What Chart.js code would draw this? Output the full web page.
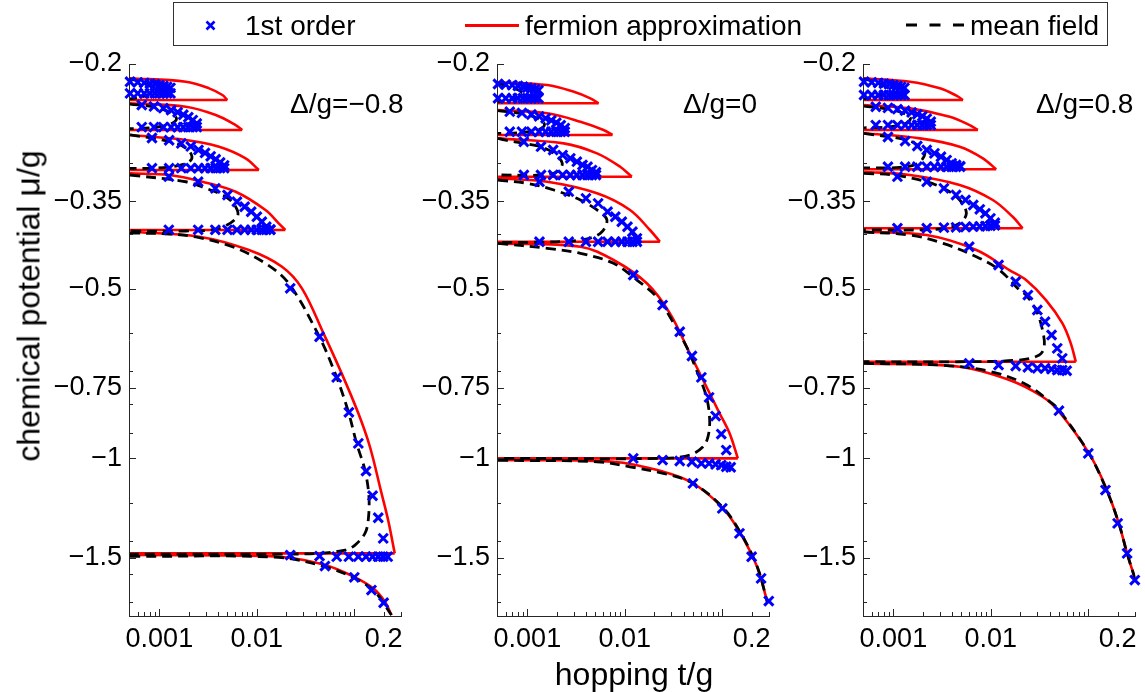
<!DOCTYPE html>
<html lang="en">
<head>
<meta charset="UTF-8" />
<title>Phase boundaries - chemical potential vs hopping</title>
<script src="https://cdn.jsdelivr.net/npm/chart.js"></script>
<style>
  body { margin: 0; background: #fff; width: 1145px; height: 692px; position: relative; overflow: hidden;
         font-family: "Liberation Sans", Arial, Helvetica, sans-serif; color: #000; }
  canvas.panel { position: absolute; top: 0; }
  .lbl { position: absolute; white-space: nowrap; }
  .leg { top: 12px; font-size: 28px; line-height: 28px; }
  .delta { top: 90px; font-size: 28px; line-height: 28px; }
</style>
</head>
<body>
  <canvas id="c1" class="panel" width="372" height="692" style="left:39px"></canvas>
  <canvas id="c2" class="panel" width="372" height="692" style="left:407px"></canvas>
  <canvas id="c3" class="panel" width="372" height="692" style="left:773px"></canvas>

  <div class="lbl delta" style="left:290px">&Delta;/g=&minus;0.8</div>
  <div class="lbl delta" style="left:683px">&Delta;/g=0</div>
  <div class="lbl delta" style="left:1036px">&Delta;/g=0.8</div>

  <div class="lbl" style="left:28px;top:306px;font-size:32px;line-height:32px;transform:translate(-50%,-50%) rotate(-90deg)">chemical potential <span style="font-size:34px">&mu;</span>/g</div>
  <div class="lbl" style="left:634px;top:658px;font-size:32px;line-height:32px;transform:translateX(-50%)">hopping t/g</div>

  <div style="position:absolute;left:173px;top:2px;width:935px;height:44px;border:1px solid #333;box-sizing:border-box"></div>
  <svg style="position:absolute;left:205px;top:20px" width="11" height="11"><path d="M1.5 1.5L9.5 9.5M9.5 1.5L1.5 9.5" stroke="#0000ff" stroke-width="2.6"/></svg>
  <div class="lbl leg" style="left:245px">1st order</div>
  <div style="position:absolute;left:465px;top:23.5px;width:54px;height:3px;background:#ff0000"></div>
  <div class="lbl leg" style="left:525px">fermion approximation</div>
  <svg style="position:absolute;left:906px;top:23px" width="58" height="4"><line x1="0" y1="2" x2="58" y2="2" stroke="#000" stroke-width="3" stroke-dasharray="11 12.5"/></svg>
  <div class="lbl leg" style="left:970px">mean field</div>

<script>
// axis ticks (y values are -mu/g, labelled with a minus sign)
const xTickValues = [0.001, 0.01, 0.2];
const xMajorMarks = [0.001, 0.01, 0.1];
const xMinorMarks = [0.0006, 0.0007, 0.0008, 0.0009, 0.002, 0.003, 0.004, 0.005, 0.006, 0.007, 0.008, 0.009,
                     0.02, 0.03, 0.04, 0.05, 0.06, 0.07, 0.08, 0.09, 0.2, 0.3];
const yTickValues = [0.2, 0.35, 0.5, 0.75, 1, 1.5];
const yMinorMarks = [0.3, 0.4, 0.6, 0.7, 0.8, 0.9, 1.2, 1.4, 1.6, 1.8];

// ---- Delta/g = -0.8 ----  (null separates curve pieces)
const p1FermionT = [
  0.0005, 0.00187, 0.00324, 0.00443, 0.00498, null, 0.00498, 0.0005, null,
  0.0005, 0.00187, 0.00379, 0.00606, 0.00708, null, 0.00708, 0.0005, null,
  0.0005, 0.00187, 0.0041, 0.00767, 0.0105, null, 0.0105, 0.0005, null,
  0.0005, 0.00127, 0.00277, 0.00606, 0.01227, 0.01677, 0.0196, null, 0.0196, 0.0005, null,
  0.0005, 0.00256, 0.00829, 0.01812, 0.029, 0.0483, 0.0742, 0.110, 0.1446, 0.19, 0.2223, 0.26, null, 0.26, 0.0005, null,
  0.0005, 0.005, 0.0181, 0.0502, 0.1016, 0.1563, 0.2062, 0.2407];
const p1FermionMu = [
  -0.212, -0.215, -0.2209, -0.227, -0.2317, null, -0.2317, -0.2317, null,
  -0.2348, -0.2381, -0.2463, -0.2566, -0.2618, null, -0.2618, -0.2618, null,
  -0.2672, -0.2727, -0.2803, -0.2939, -0.3083, null, -0.3083, -0.3083, null,
  -0.3125, -0.3146, -0.3234, -0.3368, -0.3629, -0.3832, -0.3938, null, -0.3938, -0.3938, null,
  -0.3966, -0.4047, -0.4273, -0.4575, -0.4996, -0.6004, -0.7069, -0.8322, -0.9538, -1.152, -1.2864, -1.4737, null, -1.4737, -1.4737, null,
  -1.484, -1.487, -1.496, -1.546, -1.625, -1.70, -1.796, -1.896];
const p1MeanT = [
  0.0005, 0.0007, 0.0009, 0.0007, 0.0005, null,
  0.0005, 0.0009, 0.0013, 0.0015, 0.0013, 0.0009, 0.0005, null,
  0.0005, 0.000854, 0.00148, 0.00194, 0.00216, 0.00202, 0.00148, 0.000854, 0.0005, null,
  0.0005, 0.00187, 0.003, 0.00479, 0.00606, 0.0063, 0.0041, 0.00187, 0.0005, null,
  0.0005, 0.00127, 0.00237, 0.00561, 0.01227, 0.0212, 0.0429, 0.0636, 0.0869, 0.1056, 0.1286, 0.1413, 0.139, 0.1286, 0.1017, 0.0804, 0.0429, 0.0181, 0.0005, null,
  0.0005, 0.0167, 0.0502, 0.1016, 0.1627, 0.2407];
const p1MeanMu = [
  -0.2125, -0.216, -0.222, -0.228, -0.2305, null,
  -0.2355, -0.2385, -0.244, -0.250, -0.2555, -0.259, -0.2605, null,
  -0.2672, -0.2709, -0.2765, -0.2833, -0.292, -0.298, -0.3033, -0.3061, -0.3061, null,
  -0.3146, -0.3234, -0.3322, -0.3438, -0.3581, -0.3731, -0.3911, -0.3954, -0.3954, null,
  -0.3987, -0.4003, -0.4052, -0.4216, -0.4512, -0.4895, -0.6045, -0.7069, -0.8268, -0.9406, -1.049, -1.1697, -1.2864, -1.3581, -1.4246, -1.454, -1.4737, -1.478, -1.478, null,
  -1.492, -1.498, -1.5565, -1.632, -1.7238, -1.8957];
const p1OrderT = [
  0.0005, 0.0006, 0.0007, 0.0008, 0.0009, 0.001, 0.0011, 0.0012, 0.0013,
  0.0005, 0.0006, 0.0007, 0.0008, 0.0009, 0.001, 0.0011, 0.0012, 0.0013,
  0.00066, 0.00088, 0.0011, 0.00132, 0.00154, 0.00176, 0.00198, 0.0022, 0.00242,
  0.00066, 0.00088, 0.0011, 0.00132, 0.00154, 0.00176, 0.00198, 0.0022, 0.00242,
  0.00084, 0.00126, 0.00168, 0.0021, 0.00252, 0.00294, 0.00336, 0.00378, 0.0042, 0.00462,
  0.00084, 0.00126, 0.00168, 0.0021, 0.00252, 0.00294, 0.00336, 0.00378, 0.0042, 0.00462,
  0.00125, 0.0025, 0.00375, 0.005, 0.00625, 0.0075, 0.00875, 0.01, 0.01125, 0.0125, 0.01375,
  0.00125, 0.0025, 0.00375, 0.005, 0.00625, 0.0075, 0.00875, 0.01, 0.01125, 0.0125, 0.01375,
  0.022, 0.044, 0.066, 0.088, 0.11, 0.132, 0.154, 0.176, 0.198,
  0.022, 0.044, 0.066, 0.088, 0.11, 0.132, 0.154, 0.176, 0.198, 0.22,
  0.05, 0.1, 0.15, 0.2];
const p1OrderMu = [
  -0.2150, -0.2155, -0.2160, -0.2166, -0.2172, -0.2180, -0.2188, -0.2196, -0.2205,
  -0.2255, -0.2255, -0.2255, -0.2255, -0.2255, -0.2255, -0.2255, -0.2255, -0.2255,
  -0.2365, -0.2378, -0.2395, -0.2415, -0.2435, -0.2460, -0.2485, -0.2515, -0.2550,
  -0.2588, -0.2588, -0.2588, -0.2588, -0.2588, -0.2588, -0.2588, -0.2588, -0.2588,
  -0.2705, -0.2730, -0.2765, -0.2800, -0.2840, -0.2875, -0.2915, -0.2950, -0.2990, -0.3025,
  -0.3060, -0.3060, -0.3060, -0.3060, -0.3060, -0.3060, -0.3060, -0.3060, -0.3060, -0.3060,
  -0.3168, -0.3234, -0.3322, -0.3414, -0.3509, -0.3581, -0.3655, -0.3731, -0.3807, -0.3886, -0.3930,
  -0.3935, -0.3935, -0.3935, -0.3935, -0.3935, -0.3935, -0.3935, -0.3935, -0.3935, -0.3935, -0.3935,
  -0.4996, -0.6088, -0.7185, -0.8288, -0.9406, -1.0532, -1.165, -1.2743, -1.3861,
  -1.484, -1.490, -1.494, -1.494, -1.494, -1.494, -1.494, -1.494, -1.494, -1.494,
  -1.552, -1.625, -1.712, -1.803];

// ---- Delta/g = 0 ----
const p2FermionT = [
  0.0005, 0.0016, 0.003, 0.00443, 0.00538, null, 0.00538, 0.0005, null,
  0.0005, 0.0016, 0.0035, 0.00605, 0.00747, null, 0.00747, 0.0005, null,
  0.0005, 0.00236, 0.00518, 0.00895, 0.0118, null, 0.0118, 0.0005, null,
  0.0005, 0.0016, 0.00518, 0.0113, 0.0181, 0.0229, null, 0.0229, 0.0005, null,
  0.0005, 0.0035, 0.00765, 0.0168, 0.029, 0.0464, 0.0687, 0.0938, 0.1187, 0.1443, null, 0.1443, 0.0005, null,
  0.0005, 0.00765, 0.0248, 0.0501, 0.1014, 0.1502, 0.2052, 0.2402, 0.29];
const p2FermionMu = [
  -0.2155, -0.2179, -0.224, -0.2301, -0.2348, null, -0.2348, -0.2348, null,
  -0.2413, -0.2446, -0.2531, -0.2618, -0.2672, null, -0.2672, -0.2672, null,
  -0.2709, -0.2765, -0.288, -0.3042, -0.3168, null, -0.3168, -0.3168, null,
  -0.3189, -0.3234, -0.339, -0.3629, -0.3938, -0.4131, null, -0.4131, -0.4131, null,
  -0.4158, -0.4216, -0.4451, -0.4895, -0.5533, -0.6514, -0.7466, -0.8322, -0.903, -1.0, null, -1.0, -1.0, null,
  -1.007, -1.014, -1.056, -1.107, -1.225, -1.349, -1.494, -1.599, -1.80];
const p2MeanT = [
  0.0005, 0.0007, 0.0009, 0.0007, 0.0005, null,
  0.0005, 0.0009, 0.0013, 0.0015, 0.0013, 0.0009, 0.0005, null,
  0.0005, 0.00058, 0.00092, 0.00137, 0.00187, 0.00228, 0.00202, 0.00137, 0.0005, null,
  0.0005, 0.001, 0.00187, 0.0035, 0.00518, 0.00655, 0.0056, 0.0035, 0.00117, 0.0005, null,
  0.0005, 0.0016, 0.0035, 0.00765, 0.0133, 0.0212, 0.029, 0.0429, 0.0543, 0.0687, 0.0742, 0.0713, 0.0634, 0.0464, 0.0248, 0.0005, null,
  0.0005, 0.00518, 0.0113, 0.0248, 0.0501, 0.1014, 0.1502, 0.2052, 0.2402, 0.29];
const p2MeanMu = [
  -0.2165, -0.22, -0.226, -0.231, -0.2335, null,
  -0.242, -0.245, -0.25, -0.256, -0.2615, -0.2645, -0.2655, null,
  -0.2709, -0.2727, -0.2765, -0.2803, -0.288, -0.30, -0.3104, -0.3146, -0.3146, null,
  -0.3211, -0.3255, -0.3345, -0.3484, -0.3629, -0.3781, -0.3992, -0.4102, -0.414, -0.414, null,
  -0.4158, -0.4244, -0.4331, -0.4512, -0.483, -0.5171, -0.561, -0.6341, -0.6974, -0.7777, -0.8553, -0.9156, -0.9538, -0.9866, -1.0, -1.0, null,
  -1.008, -1.014, -1.035, -1.063, -1.107, -1.222, -1.345, -1.49, -1.595, -1.80];
const p2OrderT = [
  0.0005, 0.0006, 0.0007, 0.0008, 0.0009, 0.001, 0.0011, 0.0012, 0.0013,
  0.0005, 0.0006, 0.0007, 0.0008, 0.0009, 0.001, 0.0011, 0.0012, 0.0013,
  0.00066, 0.00088, 0.0011, 0.00132, 0.00154, 0.00176, 0.00198, 0.0022, 0.00242,
  0.00066, 0.00088, 0.0011, 0.00132, 0.00154, 0.00176, 0.00198, 0.0022, 0.00242,
  0.00092, 0.00138, 0.00184, 0.0023, 0.00276, 0.00322, 0.00368, 0.00414, 0.0046, 0.00506,
  0.00092, 0.00138, 0.00184, 0.0023, 0.00276, 0.00322, 0.00368, 0.00414, 0.0046, 0.00506,
  0.00133, 0.00266, 0.00399, 0.00532, 0.00665, 0.00798, 0.00931, 0.01064, 0.01197, 0.0133,
  0.00133, 0.00266, 0.00399, 0.00532, 0.00665, 0.00798, 0.00931, 0.01064, 0.01197, 0.0133,
  0.0122, 0.0244, 0.0366, 0.0488, 0.061, 0.0732, 0.0854, 0.0976, 0.1098,
  0.0122, 0.0244, 0.0366, 0.0488, 0.061, 0.0732, 0.0854, 0.0976, 0.1098, 0.122,
  0.05, 0.1, 0.15, 0.2, 0.25, 0.3];
const p2OrderMu = [
  -0.2170, -0.2175, -0.2180, -0.2187, -0.2194, -0.2202, -0.2210, -0.2218, -0.2226,
  -0.2300, -0.2300, -0.2300, -0.2300, -0.2300, -0.2300, -0.2300, -0.2300, -0.2300,
  -0.2430, -0.2442, -0.2458, -0.2476, -0.2496, -0.2518, -0.2542, -0.2568, -0.2598,
  -0.2637, -0.2637, -0.2637, -0.2637, -0.2637, -0.2637, -0.2637, -0.2637, -0.2637,
  -0.2747, -0.2803, -0.2841, -0.2900, -0.2939, -0.2980, -0.3020, -0.3042, -0.3083, -0.3110,
  -0.3146, -0.3146, -0.3146, -0.3146, -0.3146, -0.3146, -0.3146, -0.3146, -0.3146, -0.3146,
  -0.3234, -0.3368, -0.3460, -0.3532, -0.3655, -0.3731, -0.3807, -0.3886, -0.3966, -0.4074,
  -0.4131, -0.4131, -0.4131, -0.4131, -0.4131, -0.4131, -0.4131, -0.4131, -0.4131, -0.4131,
  -0.4732, -0.5349, -0.5965, -0.6586, -0.7185, -0.7796, -0.8414, -0.9056, -0.9667,
  -1.0, -1.007, -1.011, -1.014, -1.021, -1.021, -1.025, -1.028, -1.035, -1.037,
  -1.1074, -1.2264, -1.3581, -1.4943, -1.632, -1.7904];

// ---- Delta/g = 0.8 ----
const p3FermionT = [
  0.0005, 0.00148, 0.003, 0.00444, 0.00518, null, 0.00518, 0.0005, null,
  0.0005, 0.00148, 0.00379, 0.00606, 0.00737, null, 0.00737, 0.0005, null,
  0.0005, 0.00187, 0.00479, 0.00829, 0.01135, null, 0.01135, 0.0005, null,
  0.0005, 0.00148, 0.00479, 0.01048, 0.01677, 0.0212, null, 0.0212, 0.0005, null,
  0.0005, 0.00219, 0.0071, 0.01551, 0.023, 0.0368, 0.0543, 0.0661, 0.0744, null, 0.0744, 0.0005, null,
  0.0005, 0.00479, 0.01551, 0.0339, 0.0502, 0.1017, 0.1505, 0.2057, 0.25, 0.3047];
const p3FermionMu = [
  -0.212, -0.215, -0.2209, -0.2276, -0.2317, null, -0.2317, -0.2317, null,
  -0.2365, -0.2397, -0.248, -0.2566, -0.2618, null, -0.2618, -0.2618, null,
  -0.2654, -0.2709, -0.2803, -0.2939, -0.3074, null, -0.3074, -0.3074, null,
  -0.3104, -0.3146, -0.3277, -0.3484, -0.3731, -0.391, null, -0.391, -0.391, null,
  -0.3966, -0.402, -0.4273, -0.4637, -0.483, -0.5241, -0.5764, -0.6254, -0.6742, null, -0.6742, -0.6742, null,
  -0.6786, -0.6881, -0.7265, -0.7777, -0.8268, -0.9798, -1.1229, -1.3038, -1.4737, -1.6433];
const p3MeanT = [
  0.0005, 0.0007, 0.0009, 0.0007, 0.0005, null,
  0.0005, 0.0009, 0.0013, 0.0015, 0.0013, 0.0009, 0.0005, null,
  0.0005, 0.00137, 0.00187, 0.00211, 0.00179, 0.00117, 0.0005, null,
  0.0005, 0.001, 0.00219, 0.00351, 0.00479, 0.00561, 0.00479, 0.003, 0.0005, null,
  0.0005, 0.00148, 0.00324, 0.0071, 0.01227, 0.01963, 0.02297, 0.02906, 0.0339, 0.0353, 0.0314, 0.01963, 0.00479, 0.0005, null,
  0.0005, 0.00324, 0.01, 0.023, 0.0429, 0.0513, 0.1017, 0.154, 0.2057, 0.25, 0.3047];
const p3MeanMu = [
  -0.2125, -0.216, -0.222, -0.228, -0.2305, null,
  -0.2375, -0.2405, -0.245, -0.25, -0.2555, -0.2585, -0.2595, null,
  -0.2654, -0.2727, -0.2803, -0.288, -0.30, -0.305, -0.3055, null,
  -0.3125, -0.3146, -0.3234, -0.3345, -0.3484, -0.3679, -0.3832, -0.3922, -0.3938, null,
  -0.397, -0.402, -0.4158, -0.4392, -0.4637, -0.5031, -0.5134, -0.5459, -0.5923, -0.6341, -0.656, -0.6695, -0.6742, -0.6742, null,
  -0.6786, -0.6840, -0.7020, -0.7400, -0.8000, -0.8250, -0.98, -1.138, -1.3038, -1.4737, -1.6433];
const p3OrderT = [
  0.0005, 0.0006, 0.0007, 0.0008, 0.0009, 0.001, 0.0011, 0.0012, 0.0013,
  0.0005, 0.0006, 0.0007, 0.0008, 0.0009, 0.001, 0.0011, 0.0012, 0.0013,
  0.00066, 0.00088, 0.0011, 0.00132, 0.00154, 0.00176, 0.00198, 0.0022, 0.00242,
  0.00066, 0.00088, 0.0011, 0.00132, 0.00154, 0.00176, 0.00198, 0.0022, 0.00242,
  0.00088, 0.00132, 0.00176, 0.0022, 0.00264, 0.00308, 0.00352, 0.00396, 0.0044, 0.00484,
  0.00088, 0.00132, 0.00176, 0.0022, 0.00264, 0.00308, 0.00352, 0.00396, 0.0044, 0.00484,
  0.0011, 0.0022, 0.0033, 0.0044, 0.0055, 0.0066, 0.0077, 0.0088, 0.0099, 0.011,
  0.0011, 0.0022, 0.0033, 0.0044, 0.0055, 0.0066, 0.0077, 0.0088, 0.0099, 0.011,
  0.006, 0.012, 0.018, 0.024, 0.03, 0.036, 0.042, 0.048, 0.054,
  0.006, 0.012, 0.018, 0.024, 0.03, 0.036, 0.042, 0.048, 0.054, 0.06,
  0.05, 0.1, 0.15, 0.2, 0.25, 0.3];
const p3OrderMu = [
  -0.2150, -0.2155, -0.2160, -0.2166, -0.2172, -0.2180, -0.2188, -0.2196, -0.2205,
  -0.2270, -0.2270, -0.2270, -0.2270, -0.2270, -0.2270, -0.2270, -0.2270, -0.2270,
  -0.2381, -0.2392, -0.2405, -0.2420, -0.2437, -0.2455, -0.2475, -0.2500, -0.2531,
  -0.2566, -0.2566, -0.2566, -0.2566, -0.2566, -0.2566, -0.2566, -0.2566, -0.2566,
  -0.2694, -0.2739, -0.2795, -0.2841, -0.2880, -0.2920, -0.2960, -0.3000, -0.3020, -0.3035,
  -0.3042, -0.3042, -0.3042, -0.3042, -0.3042, -0.3042, -0.3042, -0.3042, -0.3042, -0.3042,
  -0.3168, -0.3234, -0.3322, -0.3414, -0.3484, -0.3556, -0.3619, -0.3679, -0.3755, -0.3823,
  -0.3910, -0.3910, -0.3900, -0.3895, -0.3890, -0.3885, -0.3880, -0.3875, -0.3870, -0.3865,
  -0.4216, -0.4543, -0.4864, -0.5135, -0.5459, -0.5726, -0.6045, -0.6383, -0.6649,
  -0.6786, -0.6833, -0.6860, -0.6896, -0.6923, -0.6923, -0.6950, -0.6974, -0.6974, -0.6994,
  -0.8233, -0.98, -1.1381, -1.3038, -1.4737, -1.6433];

const tickFont = { family: '"Liberation Sans", Arial, sans-serif', size: 27 };

// inward MATLAB-style tick marks on the left and bottom axes
const tickMarks = {
  id: 'tickMarks',
  afterDraw(chart) {
    const { ctx, chartArea: a, scales: { x, y } } = chart;
    ctx.save();
    ctx.strokeStyle = '#262626';
    ctx.lineWidth = 1;
    ctx.beginPath();
    const vx = (v, len) => { const p = Math.round(x.getPixelForValue(v)) + 0.5; ctx.moveTo(p, a.bottom); ctx.lineTo(p, a.bottom - len); };
    const vy = (v, len) => { const p = Math.round(y.getPixelForValue(v)) + 0.5; ctx.moveTo(a.left, p); ctx.lineTo(a.left + len, p); };
    xMajorMarks.forEach(v => vx(v, 7));
    xMinorMarks.forEach(v => vx(v, 4));
    yTickValues.forEach(v => vy(v, 7));
    yMinorMarks.forEach(v => vy(v, 4));
    ctx.stroke();
    ctx.restore();
  }
};

function toPoints(ts, mus) {
  return ts.map((t, i) => ({ x: t, y: -mus[i] }));
}

function toPieces(ts, mus) {
  const out = [[]];
  ts.forEach((t, i) => {
    if (t === null) out.push([]);
    else out[out.length - 1].push({ x: t, y: -mus[i] });
  });
  return out.filter(p => p.length > 1);
}

function makePanel(id, fermionT, fermionMu, meanT, meanMu, orderT, orderMu) {
  const datasets = [{
    data: toPoints(orderT, orderMu), showLine: false, pointStyle: 'crossRot',
    pointRadius: 6.5, pointBorderWidth: 3, borderColor: '#0000ff', backgroundColor: '#0000ff',
    order: 0, clip: false
  }];
  toPieces(meanT, meanMu).forEach(p => datasets.push({
    data: p, showLine: true, borderColor: '#000', borderWidth: 2.8, borderDash: [10, 6],
    pointRadius: 0, tension: 0.35, order: 1
  }));
  toPieces(fermionT, fermionMu).forEach(p => datasets.push({
    data: p, showLine: true, borderColor: '#ff0000', borderWidth: 2.6,
    pointRadius: 0, tension: 0.35, order: 2
  }));

  new Chart(document.getElementById(id), {
    type: 'scatter',
    data: { datasets },
    options: {
      responsive: false,
      animation: false,
      events: [],
      layout: { padding: { top: 64, bottom: 36, left: 0, right: 8 } },
      plugins: { legend: { display: false }, tooltip: { enabled: false } },
      scales: {
        x: {
          type: 'logarithmic', min: 0.000488, max: 0.305, bounds: 'data',
          afterBuildTicks: s => { s.ticks = xTickValues.map(v => ({ value: v })); },
          afterFit: s => { s.height = 40; },
          grid: { display: false, drawTicks: false },
          border: { display: true, color: '#262626', width: 1 },
          ticks: { callback: v => String(v), font: tickFont, color: '#000', padding: 7, maxRotation: 0, minRotation: 0, autoSkip: false }
        },
        y: {
          type: 'logarithmic', reverse: true, min: 0.2, max: 1.903, bounds: 'data',
          afterBuildTicks: s => { s.ticks = yTickValues.map(v => ({ value: v })); },
          afterFit: s => { s.width = 90; },
          grid: { display: false, drawTicks: false },
          border: { display: true, color: '#262626', width: 1 },
          ticks: { callback: v => '\u2212' + v, font: tickFont, color: '#000', padding: 7, autoSkip: false }
        }
      }
    },
    plugins: [tickMarks]
  });
}

makePanel('c1', p1FermionT, p1FermionMu, p1MeanT, p1MeanMu, p1OrderT, p1OrderMu);
makePanel('c2', p2FermionT, p2FermionMu, p2MeanT, p2MeanMu, p2OrderT, p2OrderMu);
makePanel('c3', p3FermionT, p3FermionMu, p3MeanT, p3MeanMu, p3OrderT, p3OrderMu);
</script>
</body>
</html>
